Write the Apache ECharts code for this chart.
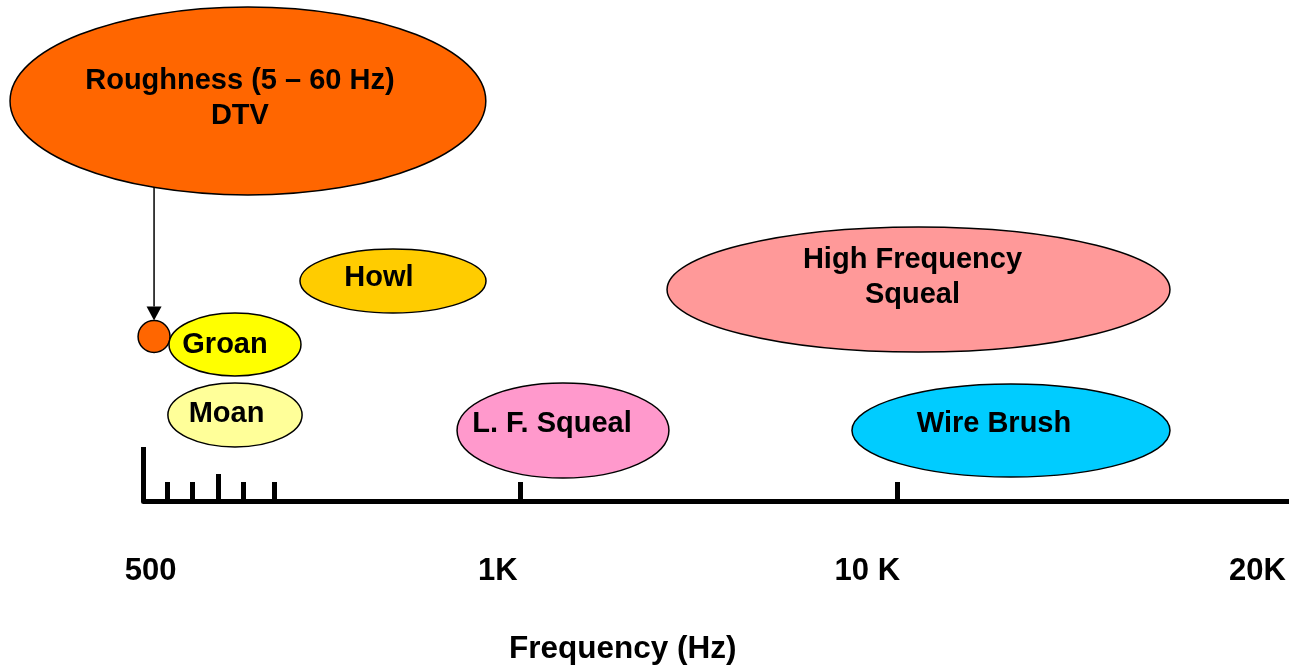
<!DOCTYPE html>
<html>
<head>
<meta charset="utf-8">
<script src="https://cdn.jsdelivr.net/npm/echarts@6/dist/echarts.min.js"></script>
<style>
  html, body { margin: 0; padding: 0; background: #ffffff; }
  #chart { width: 1289px; height: 666px; }
</style>
</head>
<body>
<div id="chart"></div>
<script>
// Frequency bands: 500 Hz, 1 kHz, 10 kHz, 20 kHz sit at evenly spaced band positions 0..3
const tickLabels = ['500', '1K', '10 K', '20K'];
const labelAt = [0.0186, 0.940, 1.920, 2.955];        // where each band label sits
const shortTicks = [0.064, 0.1305, 0.265, 0.346, 1, 2];
const tallTicks = [0.197];
const spineTicks = [0];

// Noise phenomena, each an ellipse spanning a band range (x) and a row (y)
const phenomena = [
  'Roughness (5 – 60 Hz)\nDTV',
  '',
  'Groan',
  'Moan',
  'Howl',
  'L. F. Squeal',
  'High Frequency\nSqueal',
  'Wire Brush'
];
const centerX   = [0.277, 0.028, 0.2427, 0.2427, 0.6618, 1.1127, 2.0557, 2.301];
const centerY   = [400, 164.5, 156.5, 86, 220, 70.5, 211.5, 70.5];
const halfWidth = [0.631, 0.0424, 0.175, 0.178, 0.2467, 0.281, 0.667, 0.4218];
const halfHeight = [94, 16, 31.5, 32, 32, 47.5, 62.5, 46.5];
const fills = ['#FF6600', '#FF6600', '#FFFF00', '#FFFF99', '#FFCC00', '#FF99CC', '#FF9999', '#00CCFF'];

// Small nudges (px) for each caption inside its ellipse
const captionNudge = [[-8, -3], [0, 0], [-10, 0.5], [-8.5, -1], [-14, -3], [-11, -7], [-6, -12.5], [-17, -6.5]];

const X_MAX = (1289 - 143.5) / 377;
const FONT = '"Liberation Sans", Arial, Helvetica, sans-serif';

const chart = echarts.init(document.getElementById('chart'), null, { renderer: 'canvas' });

function baseX(extra) {
  return Object.assign({
    type: 'value', min: 0, max: X_MAX, position: 'bottom',
    axisLine: { show: false },
    axisTick: { show: false },
    axisLabel: { show: false },
    splitLine: { show: false }
  }, extra);
}

const tickStyle = { color: '#000', width: 5, cap: 'butt' };

const option = {
  animation: false,
  backgroundColor: '#ffffff',
  grid: { left: 143.5, right: 0, top: 0, bottom: 165, containLabel: false, outerBoundsMode: 'none' },
  xAxis: [
    baseX({
      axisLine: { show: true, onZero: false, lineStyle: { color: '#000', width: 5 } },
      axisTick: { show: true, inside: true, length: 19, customValues: shortTicks, lineStyle: tickStyle }
    }),
    baseX({
      axisTick: { show: true, inside: true, length: 27, customValues: tallTicks, lineStyle: tickStyle }
    }),
    baseX({
      axisTick: { show: true, inside: true, length: 54, customValues: spineTicks, lineStyle: tickStyle }
    }),
    baseX({
      axisLabel: {
        show: true,
        customValues: labelAt,
        formatter: function (v) {
          const i = labelAt.indexOf(v);
          return i >= 0 ? tickLabels[i] : '';
        },
        margin: 55,
        color: '#000',
        fontSize: 31,
        fontWeight: 'bold',
        fontFamily: FONT
      },
      name: 'Frequency (Hz)',
      nameLocation: 'middle',
      nameGap: 132,
      nameTextStyle: {
        color: '#000', fontSize: 31.5, fontWeight: 'bold', fontFamily: FONT,
        padding: [0, 187, 0, 0]
      }
    })
  ],
  yAxis: { type: 'value', min: 0, max: 501, show: false },
  series: [
    {
      // arrow from the roughness bubble down to its marker dot
      type: 'custom',
      xAxisIndex: 0,
      clip: false,
      z: 1,
      data: [[centerX[1], centerY[0], centerY[1] + halfHeight[1]]],
      renderItem: function (params, api) {
        const top = api.coord([api.value(0), api.value(1)]);
        const tip = api.coord([api.value(0), api.value(2)]);
        const headH = 14, headW = 7.5;
        return {
          type: 'group',
          children: [
            {
              type: 'line',
              shape: { x1: top[0], y1: top[1], x2: tip[0], y2: tip[1] - headH },
              style: { stroke: '#000', lineWidth: 1.5 }
            },
            {
              type: 'polygon',
              shape: { points: [[tip[0] - headW, tip[1] - headH], [tip[0] + headW, tip[1] - headH], [tip[0], tip[1]]] },
              style: { fill: '#000' }
            }
          ]
        };
      }
    },
    {
      type: 'custom',
      xAxisIndex: 0,
      clip: false,
      z: 2,
      data: phenomena.map(function (_, i) {
        return [centerX[i], centerY[i], halfWidth[i], halfHeight[i], i];
      }),
      renderItem: function (params, api) {
        const i = api.value(4);
        const c = api.coord([api.value(0), api.value(1)]);
        const s = api.size([api.value(2), api.value(3)]);
        const children = [
          {
            type: 'ellipse',
            shape: { cx: c[0], cy: c[1], rx: s[0], ry: s[1] },
            style: { fill: fills[i], stroke: '#000', lineWidth: 1.5 }
          }
        ];
        if (phenomena[i]) {
          children.push({
            type: 'text',
            x: c[0] + captionNudge[i][0],
            y: c[1] + captionNudge[i][1],
            style: {
              text: phenomena[i],
              fill: '#000',
              fontSize: 29,
              fontWeight: 'bold',
              fontFamily: FONT,
              align: 'center',
              verticalAlign: 'middle',
              lineHeight: 35
            }
          });
        }
        return { type: 'group', children: children };
      }
    }
  ]
};

chart.setOption(option);
</script>
</body>
</html>
